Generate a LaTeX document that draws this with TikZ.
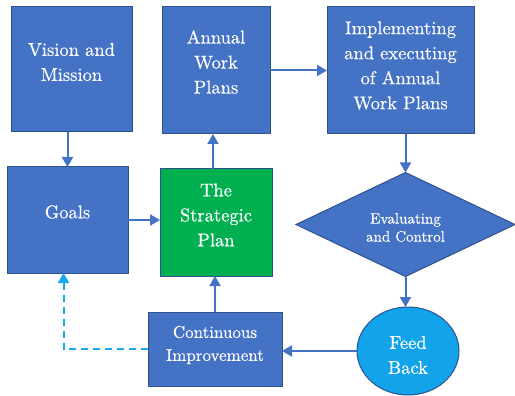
\documentclass[tikz,border=0pt]{standalone}
\usepackage{fontspec}
\setmainfont{lmroman10-regular.otf}[FakeBold=0.4]
\usetikzlibrary{arrows.meta,shapes.geometric}
\definecolor{boxblue}{HTML}{4472C4}
\definecolor{edgeblue}{HTML}{2F528F}
\definecolor{plangreen}{HTML}{00B050}
\definecolor{feedcyan}{HTML}{12A3EA}
\definecolor{dashcyan}{HTML}{1AA7EC}

\begin{document}
\begin{tikzpicture}[x=1pt,y=-1pt,
	box/.style={draw=edgeblue,fill=boxblue,line width=1pt,inner sep=0,outer sep=0},
	txt/.style={text=white,align=center,font=\fontsize{18.5}{25}\selectfont},
	link/.style={draw=boxblue,line width=2pt,-{Triangle[length=10pt,width=11pt]}},
	back/.style={draw=dashcyan,line width=2pt,dash pattern=on 7pt off 5pt,-{Triangle[length=10pt,width=11pt]}}]
	\useasboundingbox (0,0) rectangle (515,396);
	\node[box,minimum width=121pt,minimum height=125pt] (vm) at (71.5,69.5) {};
	\node[txt] (vmtext) at ([yshift=7.5pt]vm.center) {Vision and\\Mission};
	\node[box,minimum width=108pt,minimum height=127pt] (awp) at (216,70.5) {};
	\node[txt] (awptext) at ([yshift=8.5pt]awp.center) {Annual\\Work\\Plans};
	\node[box,minimum width=147pt,minimum height=127pt] (imp) at (400.5,70.5) {};
	\node[txt] (imptext) at ([yshift=5pt]imp.center) {Implementing\\and executing\\of Annual\\Work Plans};
	\node[box,minimum width=121pt,minimum height=106pt] (goals) at (67.5,220) {};
	\node[txt] (goalstext) at ([yshift=8pt]goals.center) {Goals};
	\node[box,fill=plangreen,minimum width=112pt,minimum height=107pt] (sp) at (216,222.5) {};
	\node[txt] (sptext) at ([yshift=7.5pt]sp.center) {The\\Strategic\\Plan};
	\node[box,diamond,minimum width=219pt,minimum height=104pt] (eval) at (405.5,224.5) {};
	\node[txt,font=\fontsize{15}{18}\selectfont] (evaltext) at ([yshift=-3pt]eval.center) {Evaluating\\and Control};
	\node[box,ellipse,fill=feedcyan,minimum width=102pt,minimum height=88pt] (fb) at (408,351) {};
	\node[txt] (fbtext) at ([yshift=-4pt]fb.center) {Feed\\Back};
	\node[box,minimum width=134pt,minimum height=74pt] (ci) at (215,349) {};
	\node[txt,font=\fontsize{17}{23}\selectfont] (citext) at ([yshift=4pt]ci.center) {Continuous\\Improvement};
	\draw[link] (goals.north |- vm.south) -- (goals.north);
	\draw[link] (goals.east) -- (goals.east -| sp.west);
	\draw[link] ([xshift=-3pt]sp.north) -- ([xshift=-3pt]sp.north |- awp.south);
	\draw[link] (awp.east) -- (imp.west);
	\draw[link] (eval.north |- imp.south) -- (eval.north);
	\draw[link] (eval.south) -- (eval.south |- fb.north);
	\draw[link] (fb.west) -- (fb.west -| ci.east);
	\draw[link] (ci.north) -- (ci.north |- sp.south);
	\draw[back] (ci.west) -| ([xshift=-4pt]goals.south);
\end{tikzpicture}
\end{document}
